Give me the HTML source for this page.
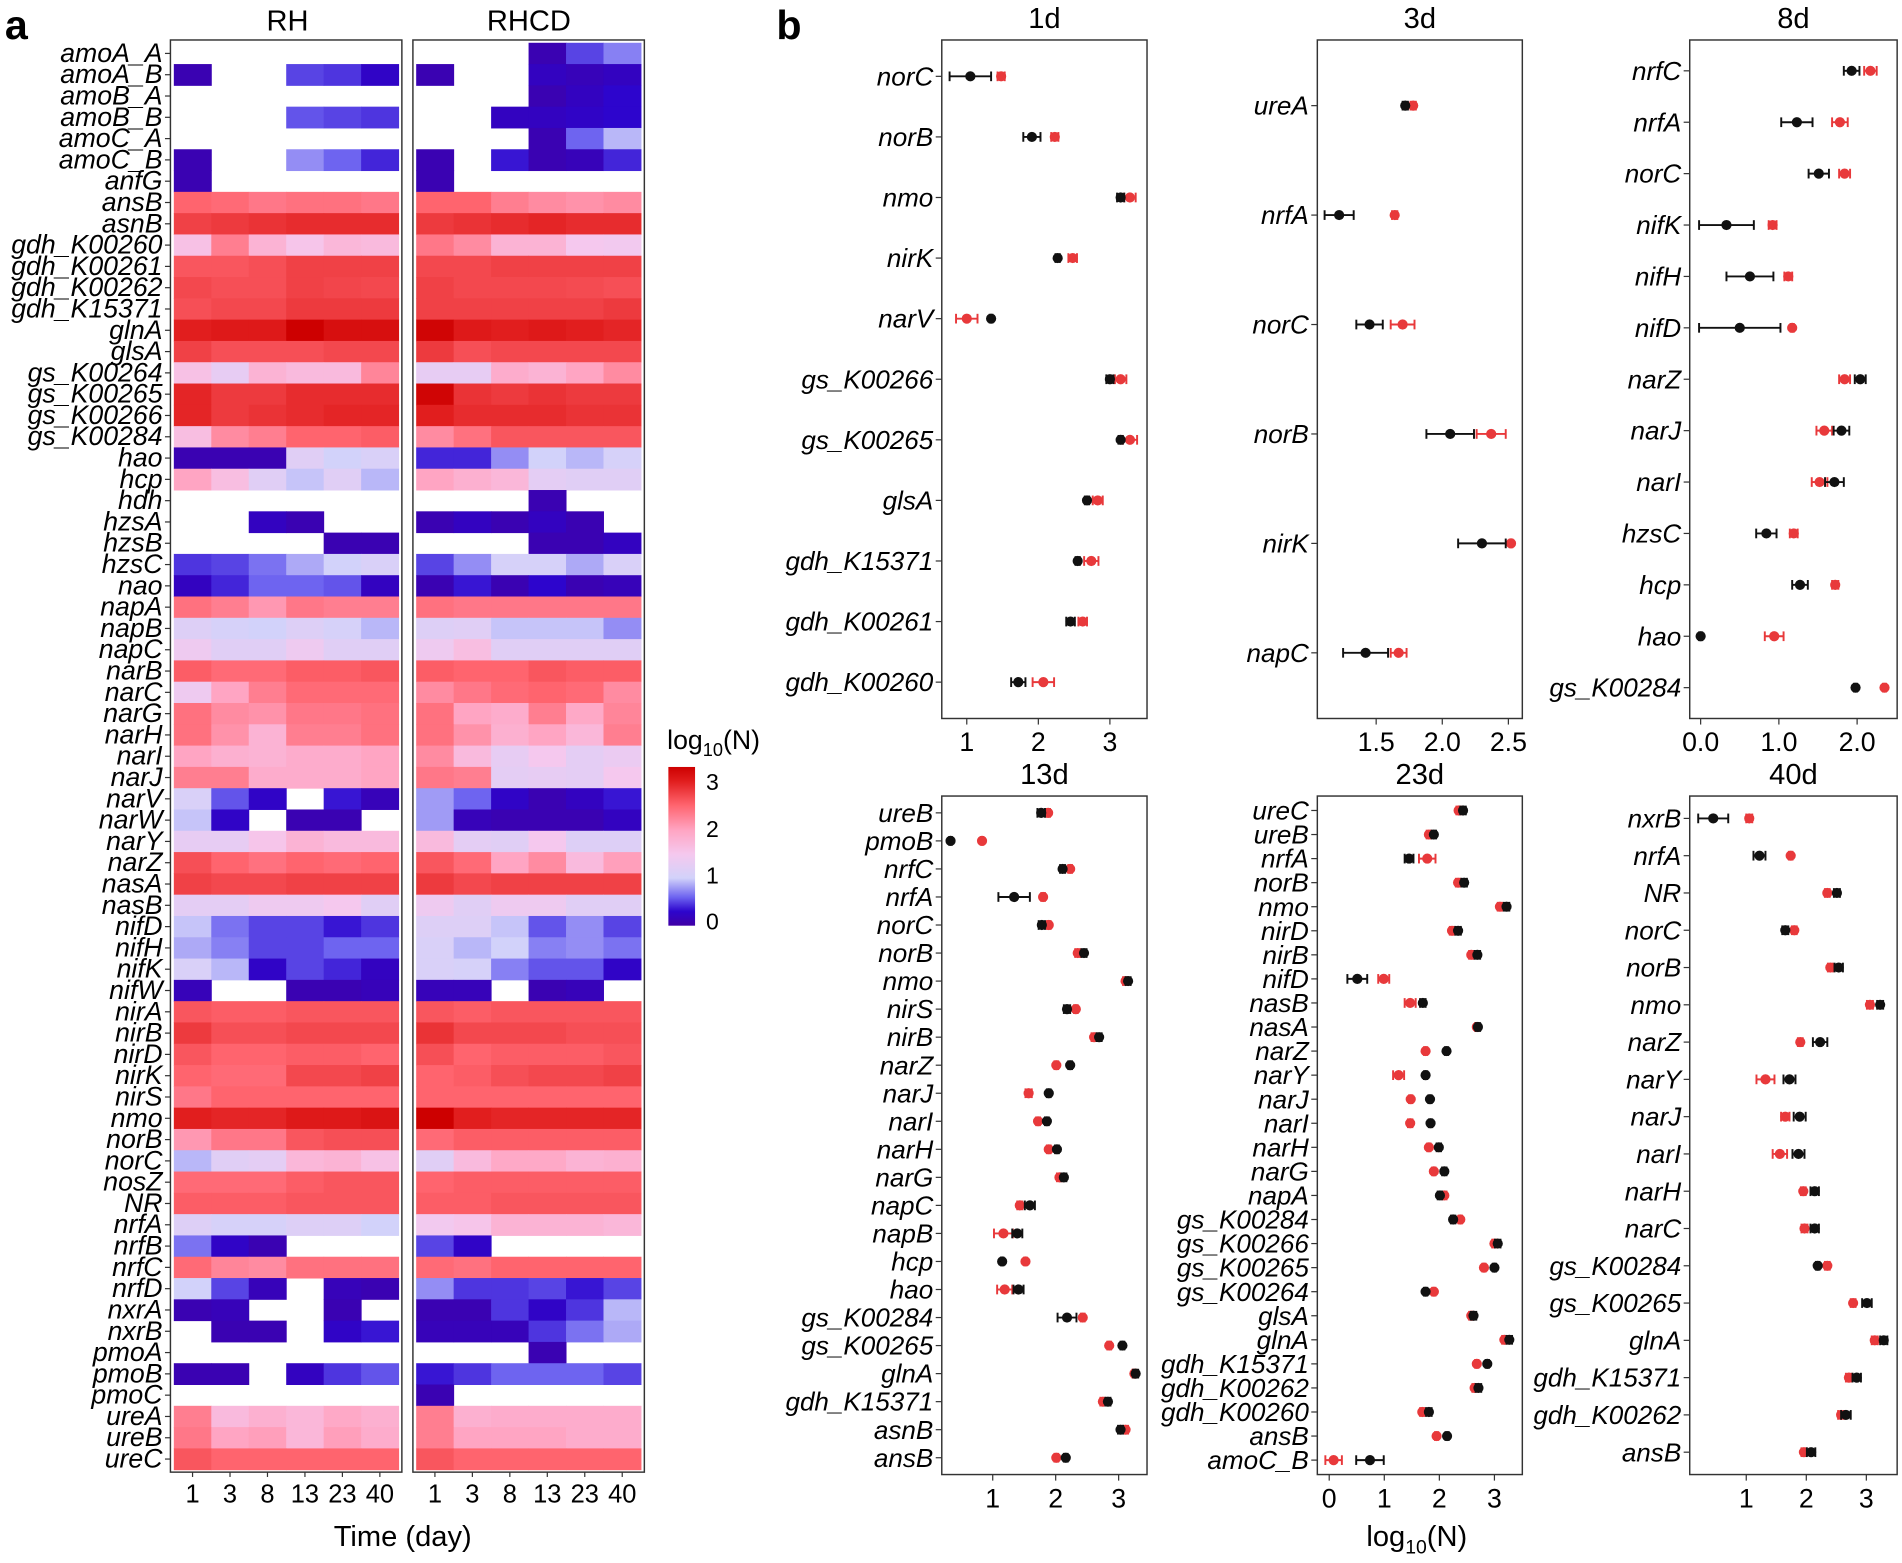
<!DOCTYPE html>
<html><head><meta charset="utf-8"><style>
html,body{margin:0;padding:0;background:#fff;}
svg{display:block;font-family:"Liberation Sans",Arial,sans-serif;}
</style></head><body>
<svg id="fig" width="1902" height="1563" viewBox="0 0 1568 1290" preserveAspectRatio="none" xmlns="http://www.w3.org/2000/svg">
<defs>
<linearGradient id="lg" x1="0" y1="1" x2="0" y2="0">
<stop offset="0" stop-color="rgb(64,0,165)"/>
<stop offset="0.09" stop-color="rgb(45,5,205)"/>
<stop offset="0.18" stop-color="rgb(110,100,240)"/>
<stop offset="0.30" stop-color="rgb(210,210,250)"/>
<stop offset="0.45" stop-color="rgb(245,200,238)"/>
<stop offset="0.60" stop-color="rgb(255,165,195)"/>
<stop offset="0.76" stop-color="rgb(255,100,110)"/>
<stop offset="0.91" stop-color="rgb(225,30,30)"/>
<stop offset="1" stop-color="rgb(205,0,0)"/>
</linearGradient>
</defs>
<text x="4" y="32" font-size="34" font-weight="bold">a</text>
<text x="640" y="32" font-size="34" font-weight="bold">b</text>
<text x="237" y="25" font-size="24" text-anchor="middle">RH</text>
<text x="436" y="25" font-size="24" text-anchor="middle">RHCD</text>
<text x="332" y="1276" font-size="24" text-anchor="middle">Time (day)</text>
<g>
<text x="550" y="618" font-size="22">log<tspan font-size="15" dy="6">10</tspan><tspan dy="-6">(N)</tspan></text>
<rect x="551" y="633" width="22" height="131" fill="url(#lg)"/>
<text x="582" y="652" font-size="19">3</text>
<text x="582" y="691" font-size="19">2</text>
<text x="582" y="729" font-size="19">1</text>
<text x="582" y="767" font-size="19">0</text>
</g>
<text x="1168" y="1276" font-size="24" text-anchor="middle">log<tspan font-size="16" dy="6">10</tspan><tspan dy="-6">(N)</tspan></text>
<g id="hm"></g>
<g id="dp"></g>
</svg>
<script>
const hmGenes=["amoA_A","amoA_B","amoB_A","amoB_B","amoC_A","amoC_B","anfG","ansB","asnB","gdh_K00260","gdh_K00261","gdh_K00262","gdh_K15371","glnA","glsA","gs_K00264","gs_K00265","gs_K00266","gs_K00284","hao","hcp","hdh","hzsA","hzsB","hzsC","nao","napA","napB","napC","narB","narC","narG","narH","narI","narJ","narV","narW","narY","narZ","nasA","nasB","nifD","nifH","nifK","nifW","nirA","nirB","nirD","nirK","nirS","nmo","norB","norC","nosZ","NR","nrfA","nrfB","nrfC","nrfD","nxrA","nxrB","pmoA","pmoB","pmoC","ureA","ureB","ureC"];
const hmDays=["1","3","8","13","23","40"];
const N=null;
const hmRH=[
[N,N,N,N,N,N],[0.1,N,N,0.5,0.45,0.25],[N,N,N,N,N,N],[N,N,N,0.55,0.5,0.45],[N,N,N,N,N,N],[0.1,N,N,0.75,0.6,0.4],[0.1,N,N,N,N,N],
[2.5,2.45,2.35,2.4,2.4,2.35],[2.75,2.8,2.85,2.9,2.9,2.9],[1.6,2.3,1.8,1.55,1.75,1.7],[2.6,2.6,2.65,2.75,2.75,2.75],[2.7,2.65,2.65,2.75,2.72,2.7],[2.65,2.7,2.7,2.8,2.8,2.8],
[3.0,3.05,3.05,3.3,3.15,3.15],[2.75,2.65,2.65,2.65,2.7,2.7],[1.6,1.3,1.8,1.7,1.7,2.25],[2.95,2.8,2.8,2.9,2.9,2.9],[2.95,2.8,2.85,2.9,2.95,2.95],[1.65,2.2,2.3,2.5,2.5,2.55],
[0.1,0.1,0.1,1.2,1.0,1.1],[2.0,1.65,1.2,0.95,1.2,0.9],[N,N,N,N,N,N],[N,N,0.2,0.1,N,N],[N,N,N,N,0.1,0.1],[0.45,0.5,0.65,0.85,1.0,1.1],[0.2,0.4,0.6,0.6,0.55,0.2],
[2.4,2.3,2.1,2.35,2.3,2.3],[1.15,1.05,1.0,1.15,1.05,0.9],[1.4,1.2,1.2,1.4,1.2,1.2],[2.55,2.45,2.45,2.55,2.55,2.6],[1.4,2.0,2.3,2.45,2.45,2.45],[2.4,2.2,2.15,2.35,2.35,2.4],
[2.4,2.15,1.8,2.3,2.3,2.4],[2.0,1.85,1.8,1.9,1.9,2.0],[2.3,2.3,1.9,1.9,1.9,2.0],[1.1,0.55,0.25,N,0.35,0.15],[0.95,0.25,N,0.1,0.1,N],[1.3,1.3,1.55,1.8,1.7,1.7],
[2.65,2.5,2.4,2.5,2.45,2.5],[2.75,2.7,2.7,2.75,2.75,2.75],[1.25,1.25,1.4,1.4,1.5,1.2],[0.95,0.65,0.5,0.5,0.35,0.45],[0.85,0.7,0.5,0.5,0.6,0.6],[1.1,0.9,0.25,0.5,0.4,0.2],
[0.15,N,N,0.1,0.1,0.15],[2.6,2.55,2.55,2.6,2.6,2.6],[2.8,2.65,2.65,2.7,2.7,2.7],[2.6,2.5,2.5,2.55,2.55,2.5],[2.5,2.45,2.45,2.7,2.7,2.75],[2.35,2.5,2.5,2.5,2.5,2.5],
[3.0,2.95,2.95,3.05,3.05,3.1],[2.1,2.35,2.35,2.6,2.65,2.65],[0.9,1.2,1.25,1.75,1.8,1.6],[2.45,2.45,2.45,2.55,2.6,2.6],[2.55,2.55,2.55,2.6,2.6,2.6],[1.15,1.05,1.05,1.15,1.15,1.0],
[0.65,0.25,0.1,N,N,N],[2.45,2.25,2.2,2.4,2.4,2.4],[1.0,0.5,0.15,N,0.15,0.1],[0.1,0.15,N,N,0.1,N],[N,0.1,0.1,N,0.25,0.35],[N,N,N,N,N,N],
[0.1,0.1,N,0.2,0.45,0.55],[N,N,N,N,N,N],[2.3,1.7,1.85,1.75,1.95,1.85],[2.35,2.0,2.05,1.75,2.05,1.9],[2.6,2.5,2.5,2.5,2.5,2.5]];
const hmRHCD=[
[N,N,N,0.1,0.5,0.7],[0.1,N,N,0.2,0.15,0.2],[N,N,N,0.1,0.2,0.3],[N,N,0.2,0.2,0.25,0.3],[N,N,N,0.1,0.6,0.9],[0.1,N,0.35,0.1,0.15,0.4],[0.1,N,N,N,N,N],
[2.5,2.5,2.3,2.2,2.15,2.2],[2.8,2.85,2.9,2.95,2.9,2.9],[2.35,2.2,1.8,1.8,1.5,1.45],[2.7,2.7,2.75,2.75,2.75,2.75],[2.75,2.7,2.7,2.7,2.68,2.65],[2.75,2.75,2.75,2.75,2.75,2.8],
[3.25,3.05,3.0,3.05,3.0,2.95],[2.8,2.65,2.7,2.7,2.7,2.7],[1.3,1.3,1.9,1.8,2.0,2.2],[3.25,2.85,2.8,2.85,2.8,2.8],[3.0,2.9,2.9,2.9,2.85,2.85],[2.2,2.4,2.6,2.6,2.6,2.6],
[0.4,0.4,0.75,1.0,0.9,1.05],[2.0,1.85,1.75,1.25,1.2,1.2],[N,N,N,0.1,N,N],[0.1,0.2,0.1,0.2,0.1,N],[N,N,N,0.1,0.1,0.2],[0.5,0.75,1.05,1.05,0.85,1.1],[0.1,0.35,0.1,0.3,0.1,0.15],
[2.4,2.35,2.35,2.35,2.35,2.35],[1.15,1.2,0.95,0.95,0.95,0.75],[1.4,1.65,1.2,1.2,1.2,1.2],[2.55,2.5,2.5,2.6,2.55,2.55],[2.2,2.35,2.45,2.5,2.45,2.2],[2.4,2.0,1.9,2.3,1.95,2.25],
[2.4,2.15,1.85,2.0,1.75,2.3],[2.2,1.7,1.3,1.5,1.25,1.35],[2.35,2.3,1.25,1.3,1.25,1.5],[0.8,0.6,0.25,0.1,0.2,0.35],[0.8,0.15,0.1,0.1,0.1,0.2],[1.7,1.25,1.2,1.5,1.15,1.15],
[2.6,2.45,2.0,2.2,1.7,2.05],[2.8,2.7,2.75,2.75,2.75,2.75],[1.4,1.2,1.4,1.4,1.2,1.2],[1.15,1.15,0.95,0.55,0.75,0.5],[1.1,0.9,1.0,0.7,0.75,0.65],[1.1,1.05,0.7,0.55,0.55,0.25],
[0.15,0.15,N,0.1,0.15,N],[2.6,2.55,2.6,2.6,2.6,2.6],[2.85,2.7,2.7,2.7,2.65,2.65],[2.65,2.5,2.55,2.55,2.55,2.6],[2.5,2.55,2.65,2.7,2.7,2.75],[2.5,2.5,2.5,2.5,2.5,2.5],
[3.3,3.0,2.95,2.95,2.95,2.95],[2.45,2.55,2.55,2.55,2.55,2.55],[1.2,1.7,1.95,1.95,1.8,1.85],[2.5,2.55,2.55,2.55,2.55,2.55],[2.55,2.55,2.6,2.6,2.6,2.6],[1.45,1.55,1.8,1.8,1.8,1.75],
[0.5,0.25,N,N,N,N],[2.45,2.4,2.5,2.5,2.5,2.5],[0.75,0.45,0.45,0.5,0.35,0.5],[0.1,0.1,0.45,0.25,0.45,0.9],[0.15,0.15,0.15,0.45,0.65,0.85],[N,N,N,0.1,N,N],
[0.35,0.45,0.6,0.6,0.6,0.5],[0.1,N,N,N,N,N],[2.3,1.85,1.9,1.9,1.9,1.9],[2.3,2.0,2.0,2.0,1.9,1.9],[2.6,2.5,2.5,2.5,2.5,2.5]];

const d1Genes=["norC","norB","nmo","nirK","narV","gs_K00266","gs_K00265","glsA","gdh_K15371","gdh_K00261","gdh_K00260"];
const d1Black=[1.05,1.91,3.15,2.27,1.34,3.0,3.15,2.68,2.55,2.45,1.72];
const d1Red=[1.48,2.23,3.28,2.48,1.0,3.15,3.28,2.83,2.74,2.62,2.07];
const d1BlackErr=[0.29,0.12,0.05,0.03,0.02,0.05,0.03,0.03,0.03,0.06,0.1];
const d1RedErr=[0.05,0.05,0.08,0.06,0.15,0.08,0.1,0.07,0.1,0.06,0.15];
const d3Genes=["ureA","nrfA","norC","norB","nirK","napC"];
const d3Black=[1.72,1.22,1.45,2.06,2.30,1.42];
const d3Red=[1.78,1.64,1.70,2.37,2.52,1.67];
const d3BlackErr=[0.02,0.11,0.1,0.18,0.18,0.17];
const d3RedErr=[0.02,0.02,0.09,0.11,0.01,0.06];
const d8Genes=["nrfC","nrfA","norC","nifK","nifH","nifD","narZ","narJ","narI","hzsC","hcp","hao","gs_K00284"];
const d8Black=[1.93,1.23,1.51,0.33,0.63,0.5,2.04,1.80,1.71,0.84,1.27,0.0,1.98];
const d8Red=[2.17,1.78,1.84,0.92,1.12,1.17,1.84,1.58,1.52,1.19,1.72,0.94,2.35];
const d8BlackErr=[0.1,0.2,0.13,0.35,0.3,0.52,0.07,0.1,0.12,0.13,0.1,0.02,0.02];
const d8RedErr=[0.08,0.1,0.07,0.05,0.05,0.02,0.07,0.1,0.1,0.05,0.04,0.12,0.02];
const d13Genes=["ureB","pmoB","nrfC","nrfA","norC","norB","nmo","nirS","nirB","narZ","narJ","narI","narH","narG","napC","napB","hcp","hao","gs_K00284","gs_K00265","glnA","gdh_K15371","asnB","ansB"];
const d13Black=[1.77,0.33,2.11,1.34,1.78,2.45,3.15,2.18,2.69,2.23,1.89,1.86,2.02,2.13,1.59,1.39,1.15,1.41,2.18,3.06,3.27,2.83,3.03,2.16];
const d13Red=[1.88,0.83,2.23,1.8,1.89,2.35,3.11,2.32,2.61,2.01,1.57,1.72,1.89,2.06,1.43,1.17,1.52,1.19,2.43,2.85,3.25,2.75,3.11,2.01];
const d13BlackErr=[0.06,0.02,0.04,0.25,0.05,0.04,0.04,0.05,0.04,0.03,0.03,0.03,0.03,0.04,0.08,0.08,0.02,0.08,0.15,0.03,0.04,0.04,0.04,0.03];
const d13RedErr=[0.03,0.02,0.03,0.03,0.03,0.04,0.04,0.03,0.04,0.03,0.05,0.03,0.03,0.04,0.04,0.15,0.02,0.12,0.03,0.03,0.03,0.04,0.04,0.03];
const d23Genes=["ureC","ureB","nrfA","norB","nmo","nirD","nirB","nifD","nasB","nasA","narZ","narY","narJ","narI","narH","narG","napA","gs_K00284","gs_K00266","gs_K00265","gs_K00264","glsA","glnA","gdh_K15371","gdh_K00262","gdh_K00260","ansB","amoC_B"];
const d23Black=[2.43,1.9,1.45,2.45,3.22,2.34,2.69,0.51,1.70,2.70,2.13,1.75,1.83,1.84,1.99,2.09,2.01,2.25,3.06,3.0,1.75,2.62,3.27,2.87,2.71,1.81,2.14,0.74];
const d23Red=[2.35,1.81,1.78,2.34,3.1,2.23,2.58,0.99,1.47,2.68,1.75,1.26,1.48,1.47,1.81,1.9,2.09,2.38,3.0,2.81,1.9,2.58,3.18,2.68,2.64,1.69,1.95,0.08];
const d23BlackErr=[0.05,0.04,0.08,0.05,0.05,0.05,0.05,0.18,0.05,0.04,0.03,0.03,0.03,0.03,0.04,0.04,0.04,0.04,0.05,0.03,0.03,0.05,0.05,0.03,0.05,0.05,0.03,0.25];
const d23RedErr=[0.04,0.04,0.15,0.04,0.04,0.04,0.04,0.1,0.1,0.03,0.03,0.1,0.03,0.04,0.03,0.03,0.04,0.03,0.04,0.03,0.03,0.04,0.04,0.03,0.04,0.04,0.03,0.15];
const d40Genes=["nxrB","nrfA","NR","norC","norB","nmo","narZ","narY","narJ","narI","narH","narC","gs_K00284","gs_K00265","glnA","gdh_K15371","gdh_K00262","ansB"];
const d40Black=[0.45,1.22,2.51,1.65,2.54,3.23,2.23,1.72,1.89,1.87,2.14,2.14,2.19,3.01,3.29,2.84,2.66,2.08];
const d40Red=[1.05,1.74,2.35,1.8,2.4,3.06,1.9,1.32,1.65,1.56,1.95,1.97,2.35,2.78,3.14,2.71,2.58,1.96];
const d40BlackErr=[0.25,0.1,0.05,0.05,0.07,0.05,0.12,0.1,0.1,0.1,0.07,0.07,0.03,0.08,0.06,0.07,0.08,0.07];
const d40RedErr=[0.05,0.03,0.04,0.04,0.04,0.05,0.04,0.15,0.07,0.12,0.04,0.05,0.04,0.04,0.05,0.05,0.05,0.04];

const NS="http://www.w3.org/2000/svg";
function mk(tag,attrs,parent){const e=document.createElementNS(NS,tag);for(const k in attrs)e.setAttribute(k,attrs[k]);parent.appendChild(e);return e;}
const stops=[[0,[64,0,165]],[0.3,[45,5,205]],[0.6,[110,100,240]],[1.0,[210,210,250]],[1.5,[245,200,238]],[2.0,[255,165,195]],[2.5,[255,100,110]],[3.0,[225,30,30]],[3.3,[205,0,0]]];
function color(v){if(v<=stops[0][0])return "rgb("+stops[0][1]+")";for(let i=1;i<stops.length;i++){if(v<=stops[i][0]){const a=stops[i-1],b=stops[i],t=(v-a[0])/(b[0]-a[0]);return "rgb("+a[1].map((c,j)=>Math.round(c+(b[1][j]-c)*t)).join(",")+")";}}return "rgb("+stops[stops.length-1][1]+")";}

const hm=document.getElementById('hm');
const rowTop=35.3,rowH=(1213-35.3)/hmGenes.length;
const facets=[{x0:143.3,x1:328.6,fx0:140.5,fx1:331.3,data:hmRH,name:"rh"},{x0:343.1,x1:528.4,fx0:340.4,fx1:531.2,data:hmRHCD,name:"rhcd"}];
facets.forEach(f=>{
  const cw=(f.x1-f.x0)/hmDays.length;
  const g=mk('g',{},hm);
  
  
  f.data.forEach((row,r)=>row.forEach((v,c)=>{
    if(v===null)return;
    const rc=mk('rect',{x:f.x0+c*cw,y:rowTop+r*rowH,width:cw+0.4,height:rowH+0.4,fill:color(v)},g);
    
    
  }));
  const fr=mk('rect',{x:f.fx0,y:33,width:f.fx1-f.fx0,height:1215-33,fill:'none',stroke:'#333','stroke-width':1.2},g);
  
  
  hmDays.forEach((d,c)=>{
    const cx=f.x0+(c+0.5)*cw;
    mk('line',{x1:cx,x2:cx,y1:1215,y2:1219,stroke:'#333'},g);
    const t=mk('text',{x:cx,y:1240,'font-size':21,'text-anchor':'middle'},g);
    t.textContent=d;
    
    
  });
});
hmGenes.forEach((gname,r)=>{
  const cy=rowTop+(r+0.5)*rowH;
  mk('line',{x1:136,x2:140.5,y1:cy,y2:cy,stroke:'#333'},hm);
  const t=mk('text',{x:134,y:cy+7,'font-size':22,'font-style':'italic','text-anchor':'end'},hm);
  t.textContent=gname;
  
  
});

const dp=document.getElementById('dp');
const panels=[
 {title:"1d",genes:d1Genes,b:d1Black,r:d1Red,be:d1BlackErr,re:d1RedErr,fx0:776.4,fx1:945.6,y0:33,y1:593,v0:1,p0:797,v1:3,p1:915,ticks:[1,2,3],lab:["1","2","3"]},
 {title:"3d",genes:d3Genes,b:d3Black,r:d3Red,be:d3BlackErr,re:d3RedErr,fx0:1086,fx1:1255,y0:33,y1:593,v0:1.5,p0:1134.5,v1:2.5,p1:1243.5,ticks:[1.5,2,2.5],lab:["1.5","2.0","2.5"]},
 {title:"8d",genes:d8Genes,b:d8Black,r:d8Red,be:d8BlackErr,re:d8RedErr,fx0:1393,fx1:1564,y0:33,y1:593,v0:0,p0:1402,v1:2,p1:1531,ticks:[0,1,2],lab:["0.0","1.0","2.0"]},
 {title:"13d",genes:d13Genes,b:d13Black,r:d13Red,be:d13BlackErr,re:d13RedErr,fx0:776.4,fx1:945.6,y0:657,y1:1217,v0:1,p0:818.4,v1:3,p1:922.2,ticks:[1,2,3],lab:["1","2","3"]},
 {title:"23d",genes:d23Genes,b:d23Black,r:d23Red,be:d23BlackErr,re:d23RedErr,fx0:1086,fx1:1255,y0:657,y1:1217,v0:0,p0:1095.8,v1:3,p1:1232,ticks:[0,1,2,3],lab:["0","1","2","3"]},
 {title:"40d",genes:d40Genes,b:d40Black,r:d40Red,be:d40BlackErr,re:d40RedErr,fx0:1393,fx1:1564,y0:657,y1:1217,v0:1,p0:1439.6,v1:3,p1:1538.6,ticks:[1,2,3],lab:["1","2","3"]}
];
panels.forEach(p=>{
  const g=mk('g',{},dp);
  
  
  const xs=v=>p.p0+(v-p.v0)*(p.p1-p.p0)/(p.v1-p.v0);
  const n=p.genes.length, step=(p.y1-p.y0)/(n-1+1.2);
  const ys=i=>p.y0+step*(0.6+i);
  const tt=mk('text',{x:(p.fx0+p.fx1)/2,y:p.y0-10,'font-size':24,'text-anchor':'middle'},g);
  tt.textContent=p.title;
  
  
  const fr=mk('rect',{x:p.fx0,y:p.y0,width:p.fx1-p.fx0,height:p.y1-p.y0,fill:'none',stroke:'#333','stroke-width':1.2},g);
  
  
  p.ticks.forEach((v,k)=>{
    const x=xs(v);
    mk('line',{x1:x,x2:x,y1:p.y1,y2:p.y1+5,stroke:'#333'},g);
    const t=mk('text',{x:x,y:p.y1+27,'font-size':22,'text-anchor':'middle'},g);
    t.textContent=p.lab[k];
    
    
  });
  p.genes.forEach((gn,i)=>{
    const y=ys(i);
    mk('line',{x1:p.fx0-5,x2:p.fx0,y1:y,y2:y,stroke:'#333'},g);
    const t=mk('text',{x:p.fx0-7,y:y+7.5,'font-size':21.5,'font-style':'italic','text-anchor':'end'},g);
    t.textContent=gn;
    
    
    [[p.r[i],p.re[i],'#e8393b','red'],[p.b[i],p.be[i],'#111','black']].forEach(s=>{
      const [v,e,col,nm]=s;
      const xa=xs(v-e),xb=xs(v+e);
      const eg=mk('g',{stroke:col,'stroke-width':1.6},g);
      
      
      mk('line',{x1:xa,x2:xb,y1:y,y2:y},eg);
      mk('line',{x1:xa,x2:xa,y1:y-4,y2:y+4},eg);
      mk('line',{x1:xb,x2:xb,y1:y-4,y2:y+4},eg);
      const c=mk('circle',{cx:xs(v),cy:y,r:4.2,fill:col},g);
      
      
    });
  });
});
</script>
</body></html>
